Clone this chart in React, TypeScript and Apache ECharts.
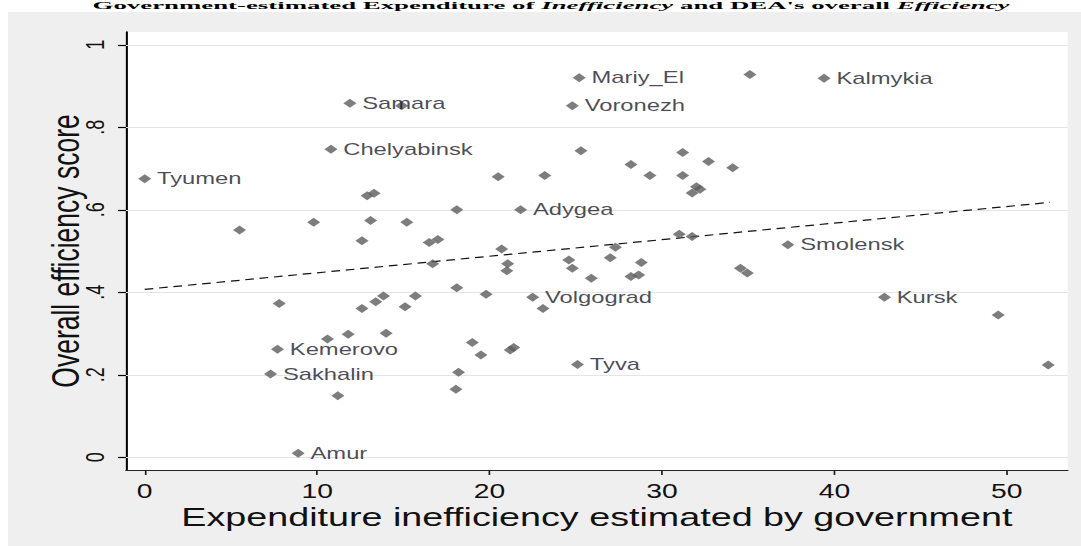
import React, { useEffect, useRef } from "react";
import * as echarts from "echarts";

// ---- data ----
const labeledNames = ["Tyumen", "Samara", "Chelyabinsk", "Mariy_El", "Voronezh", "Kalmykia", "Adygea", "Smolensk", "Kursk", "Volgograd", "Tyva", "Kemerovo", "Sakhalin", "Amur"];
const labeledX = [0.0, 11.9, 10.8, 25.2, 24.8, 39.4, 21.8, 37.3, 42.9, 22.5, 25.1, 7.7, 7.3, 8.9];
const labeledY = [0.675, 0.858, 0.747, 0.92, 0.852, 0.919, 0.6, 0.515, 0.388, 0.388, 0.225, 0.262, 0.202, 0.01];

const otherX = [14.9, 35.1, 5.5, 7.8, 9.8, 12.6, 12.9, 13.3, 13.1, 15.2, 16.5, 17.0, 18.1, 20.7, 21.05, 21.0, 16.7, 18.1, 19.8, 12.6, 13.4, 13.85, 15.1, 15.7, 10.6, 11.8, 14.0, 11.2, 19.0, 19.5, 21.2, 21.4, 18.2, 18.05, 20.5, 25.3, 23.2, 28.2, 29.3, 31.2, 31.2, 32.7, 34.1, 32.0, 31.75, 32.2, 24.6, 24.8, 25.9, 27.0, 27.3, 28.8, 28.2, 28.65, 31.0, 31.75, 34.55, 34.95, 23.1, 49.5, 52.4];
const otherY = [0.852, 0.928, 0.551, 0.373, 0.57, 0.525, 0.634, 0.64, 0.574, 0.57, 0.521, 0.528, 0.6, 0.505, 0.469, 0.452, 0.469, 0.411, 0.395, 0.361, 0.377, 0.391, 0.365, 0.391, 0.287, 0.298, 0.301, 0.149, 0.278, 0.248, 0.26, 0.266, 0.206, 0.165, 0.68, 0.743, 0.683, 0.71, 0.683, 0.739, 0.683, 0.717, 0.702, 0.656, 0.641, 0.65, 0.478, 0.458, 0.434, 0.484, 0.509, 0.472, 0.438, 0.442, 0.541, 0.535, 0.458, 0.447, 0.361, 0.345, 0.224];

const fitX = [0, 52.5];
const fitY = [0.407, 0.618];

const xTicks = [0, 10, 20, 30, 40, 50];
const yTicks = [0, 0.2, 0.4, 0.6, 0.8, 1];
const yTickLabels = ["0", ".2", ".4", ".6", ".8", "1"];

const titleText = "Government-estimated Expenditure of {i|Inefficiency} and DEA's overall {i|Efficiency}";
const xName = "Expenditure inefficiency estimated by government";
const yName = "Overall efficiency score";

// ---- layout (image is horizontally stretched) ----
const S = 1.45;
const W = 1081 / S;
const H = 546;
const FONT = "'Liberation Sans', Arial, sans-serif";
const SERIF = "'Liberation Serif', 'Times New Roman', serif";

export default function App() {
  const ref = useRef<HTMLDivElement>(null);
  useEffect(() => {
    if (!ref.current) return;
    const chart = echarts.init(ref.current, null, { renderer: "svg" });
    const labeled = labeledNames.map((n, i) => ({ name: n, value: [labeledX[i], labeledY[i]] }));
    const others = otherX.map((x, i) => [x, otherY[i]]);
    const fit = fitX.map((x, i) => [x, fitY[i]]);
    chart.setOption({
      animation: false,
      backgroundColor: "#ffffff",
      textStyle: { fontFamily: FONT },
      graphic: [
        {
          type: "rect",
          z: -10,
          shape: { x: 8 / S, y: 12, width: W, height: H },
          style: { fill: "#efefef" },
          silent: true,
        },
        {
          type: "text",
          x: 380,
          y: 0,
          scaleY: 0.6,
          style: {
            text: titleText,
            fontFamily: SERIF,
            fontWeight: "bold",
            fontSize: 18.5,
            fill: "#000",
            align: "center",
            verticalAlign: "top",
            rich: {
              i: {
                fontFamily: SERIF,
                fontWeight: "bold",
                fontStyle: "italic",
                fontSize: 18.5,
                fill: "#000",
              },
            },
          },
        },
      ],
      grid: {
        left: 126 / S,
        right: W - 1067 / S,
        top: 32,
        bottom: H - 470,
        show: true,
        backgroundColor: "#ffffff",
        borderWidth: 0,
      },
      xAxis: {
        type: "value",
        min: -1.085,
        max: 53.53,
        name: xName,
        nameLocation: "middle",
        nameGap: 34,
        nameMoveOverlap: false,
        nameTextStyle: { fontSize: 26, color: "#111", fontFamily: FONT },
        axisLine: { show: true, onZero: false, lineStyle: { color: "#222", width: 1.2 } },
        axisTick: { show: true, length: 5, customValues: xTicks, lineStyle: { color: "#222", width: 1.2 } },
        axisLabel: { customValues: xTicks, fontSize: 19.5, color: "#111", margin: 11, fontFamily: FONT },
        splitLine: { show: false },
      },
      yAxis: {
        type: "value",
        min: -0.0308,
        max: 1.031,
        name: yName,
        nameLocation: "middle",
        nameGap: 28,
        nameMoveOverlap: false,
        nameRotate: 90,
        nameTextStyle: { fontSize: 26.5, color: "#111", fontFamily: FONT },
        axisLine: { show: true, onZero: false, lineStyle: { color: "#000", width: 1.4 } },
        axisTick: { show: true, length: 5.5, customValues: yTicks, lineStyle: { color: "#000", width: 1.2 } },
        axisLabel: {
          customValues: yTicks,
          rotate: 90,
          fontSize: 18,
          color: "#111",
          margin: 12,
          fontFamily: FONT,
          formatter: (v: number) => {
            const idx = yTicks.findIndex((t) => Math.abs(t - v) < 1e-6);
            return idx >= 0 ? yTickLabels[idx] : "";
          },
        },
        splitLine: { show: false },
      },
      series: [
        {
          type: "line",
          data: fit,
          z: 2,
          symbol: "none",
          silent: true,
          lineStyle: { color: "#111", width: 1.2, type: [6, 4] },
          markLine: {
            silent: true,
            symbol: "none",
            label: { show: false },
            lineStyle: { color: "#e4e4e4", width: 1.2, type: "solid" },
            data: yTicks.map((t) => ({ yAxis: t })),
            z: 1,
          },
        },
        {
          type: "scatter",
          data: others,
          z: 3,
          symbol: "diamond",
          symbolSize: 9,
          itemStyle: { color: "#5c5c5c" },
        },
        {
          type: "scatter",
          data: labeled,
          z: 4,
          symbol: "diamond",
          symbolSize: 9,
          itemStyle: { color: "#5c5c5c" },
          label: {
            show: true,
            position: "right",
            distance: 4,
            formatter: (p: any) => p.name,
            fontSize: 16.4,
            color: "#1c1c2c",
            fontFamily: FONT,
          },
        },
      ],
    });
    return () => chart.dispose();
  }, []);
  return (
    <div
      ref={ref}
      style={{
        position: "fixed",
        left: 0,
        top: 0,
        width: W,
        height: H,
        transform: `scaleX(${S})`,
        transformOrigin: "0 0",
      }}
    />
  );
}
